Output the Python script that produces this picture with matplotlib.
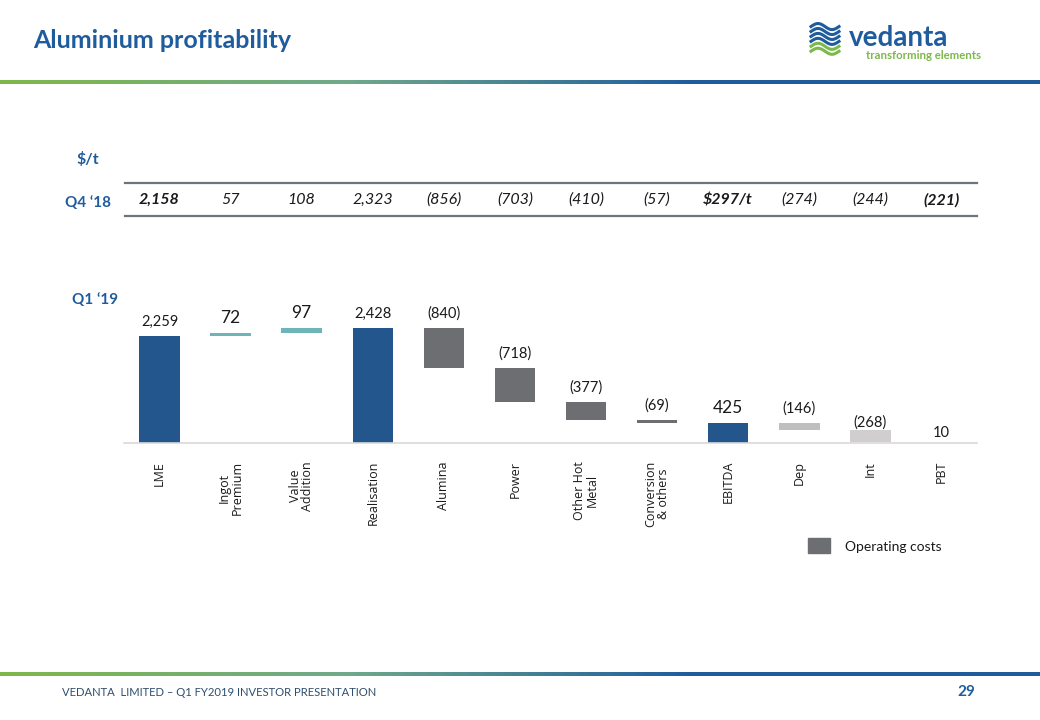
import numpy as np
import matplotlib
matplotlib.use("Agg")
import matplotlib.pyplot as plt
from matplotlib.transforms import blended_transform_factory
from matplotlib.patches import Rectangle
from matplotlib.colors import LinearSegmentedColormap

plt.rcParams['font.family'] = ['Lato', 'DejaVu Sans']

categories = ["LME", "Ingot\nPremium", "Value\nAddition", "Realisation", "Alumina", "Power",
              "Other Hot\nMetal", "Conversion\n& others", "EBITDA", "Dep", "Int", "PBT"]
q1_values = [2259, 72, 97, 2428, -840, -718, -377, -69, 425, -146, -268, 10]
q1_labels = ["2,259", "72", "97", "2,428", "(840)", "(718)", "(377)", "(69)", "425", "(146)", "(268)", "10"]
is_total = [True, False, False, True, False, False, False, False, True, False, False, True]
q4_labels = ["2,158", "57", "108", "2,323", "(856)", "(703)", "(410)", "(57)", "$297/t", "(274)", "(244)", "(221)"]
q4_bold = [True, False, False, False, False, False, False, False, True, False, False, True]

BLUE = "#23568C"
TEAL = "#6DB5B9"
DGRAY = "#6D6E71"
LGRAY = "#BFBFBF"
LLGRAY = "#D0CECE"
TITLE_BLUE = "#1F5C9E"
colors = [BLUE, TEAL, TEAL, BLUE, DGRAY, DGRAY, DGRAY, DGRAY, BLUE, LGRAY, LLGRAY, BLUE]
big_label = [False, True, True, False, False, False, False, False, True, False, False, False]
label_gap = [5, 5, 5, 5, 5, 5, 5, 5, 5, 5, 0, 2]

W, H = 1040, 720
fig = plt.figure(figsize=(W / 100, H / 100), dpi=100)

def fx(px):
    return px / W

def fy(py):
    return 1 - py / H

# main waterfall axes: x 124..977, baseline at y=443
ax = fig.add_axes([fx(124), fy(443), fx(977 - 124), (443 - 290) / H])
ax.set_xlim(-0.5, 11.5)
ax.set_ylim(0, 3228)

x = np.arange(len(categories))
bottoms, heights = [], []
running = 0
for v, tot in zip(q1_values, is_total):
    if tot:
        bottoms.append(0)
        heights.append(v)
        running = v
    else:
        if v >= 0:
            bottoms.append(running)
            heights.append(v)
        else:
            bottoms.append(running + v)
            heights.append(-v)
        running += v

ax.bar(x, heights, bottom=bottoms, width=0.57, color=colors, zorder=2)
for i in range(len(x)):
    top = bottoms[i] + heights[i]
    ax.annotate(q1_labels[i], (x[i], top), xytext=(0, label_gap[i]), textcoords="offset points",
                ha="center", va="bottom", fontsize=12.5 if big_label[i] else 10.5,
                color="#1a1a1a")

for s in ["top", "right", "left"]:
    ax.spines[s].set_visible(False)
ax.spines["bottom"].set_color("#D9D9D9")
ax.spines["bottom"].set_linewidth(1.2)
ax.set_yticks([])
ax.set_xticks(x)
ax.set_xticklabels(categories, rotation=90, va="top", ha="center", linespacing=0.95)
for tl in ax.get_xticklabels():
    tl.set_fontfamily(['Open Sans', 'DejaVu Sans'])
    tl.set_fontsize(9)
ax.tick_params(axis="x", length=0, pad=13, colors="#1a1a1a")

# Q4 '18 table row
tr = blended_transform_factory(ax.transData, fig.transFigure)
for yy in [183, 216]:
    fig.add_artist(plt.Line2D([fx(125), fx(977)], [fy(yy), fy(yy)], color="#6D7480", lw=1.6))
for i, lab in enumerate(q4_labels):
    fig.text(x[i], fy(200), lab, transform=tr, ha="center", va="center", fontsize=11.5,
             style="italic", fontweight="bold" if q4_bold[i] else "normal", color="#1a1a1a")

fig.text(fx(88), fy(160), "$/t", ha="center", va="center", fontsize=11.5, fontweight="bold", color=TITLE_BLUE)
fig.text(fx(88), fy(203), "Q4 \u201818", ha="center", va="center", fontsize=11, fontweight="bold", color=TITLE_BLUE)
fig.text(fx(95), fy(300), "Q1 \u201819", ha="center", va="center", fontsize=11, fontweight="bold", color=TITLE_BLUE)

# legend
fig.add_artist(Rectangle((fx(808), fy(553)), fx(22), 15 / H, transform=fig.transFigure, color=DGRAY))
fig.text(fx(845), fy(547), "Operating costs", ha="left", va="center", fontsize=10, color="#1a1a1a")

# title
fig.text(fx(33), fy(40), "Aluminium profitability", ha="left", va="center", fontsize=18,
         fontweight="bold", color=TITLE_BLUE)

# gradient lines
grad = LinearSegmentedColormap.from_list("g", ["#7DB84A", "#6FA98A", "#1F5C9E", "#1F5C9E"])
for yy in [82, 674]:
    gax = fig.add_axes([0, fy(yy + 2), 1, 4 / H])
    gax.imshow(np.linspace(0, 1, 256)[None, :], aspect="auto", cmap=grad)
    gax.axis("off")

# logo
lax = fig.add_axes([fx(805), fy(60), fx(40), 38 / H])
lax.set_xlim(0, 1)
lax.set_ylim(0, 1)
lax.axis("off")
t = np.linspace(0, 1, 30)
for k in range(6):
    yy = 0.88 - k * 0.13
    c = TITLE_BLUE if k < 4 else "#7DB84A"
    lax.plot(0.15 + 0.7 * t, yy + 0.08 * np.sin(t * np.pi * 2), color=c, lw=2.2)
fig.text(fx(849), fy(46), "vedanta", ha="left", va="baseline", fontsize=20, fontweight="bold",
         color=TITLE_BLUE)
fig.text(fx(866), fy(50), "transforming elements", ha="left", va="top", fontsize=8.2,
         fontweight="bold", color="#7DB84A")

# footer
fig.text(fx(62), fy(692), "VEDANTA  LIMITED \u2013 Q1 FY2019 INVESTOR PRESENTATION", ha="left", va="center",
         fontsize=8.1, color="#2F4E6F")
fig.text(fx(975), fy(692), "29", ha="right", va="center", fontsize=11, fontweight="bold", color=TITLE_BLUE)

fig.savefig("out.png", dpi=100)
